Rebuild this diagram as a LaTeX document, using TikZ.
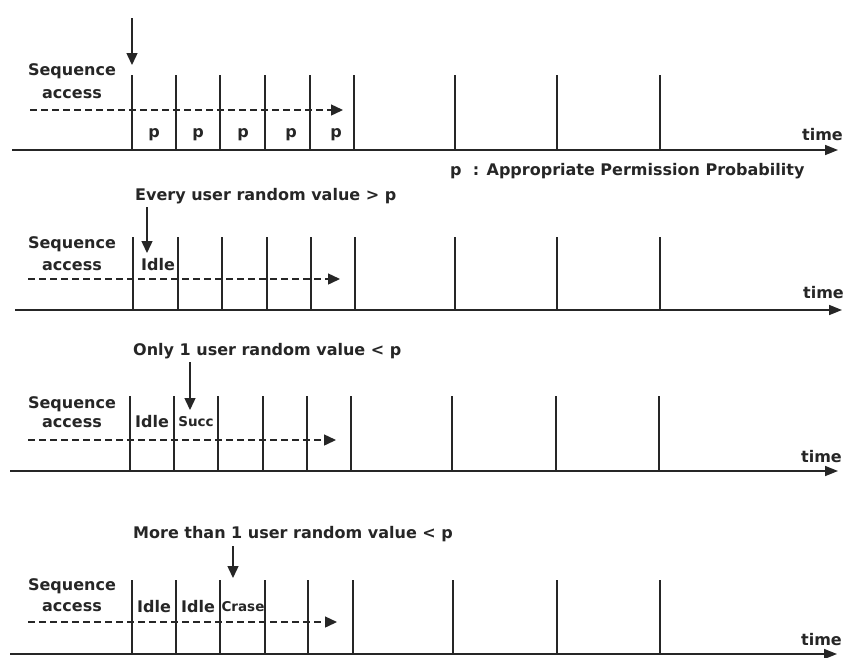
\documentclass[tikz,border=0pt]{standalone}
\usepackage{fontspec}
\setmainfont{DejaVu Sans}
\usetikzlibrary{arrows.meta}
\definecolor{ink}{HTML}{262626}
\begin{document}
\begin{tikzpicture}[x=1pt,y=-1pt,
  lbl/.style={font=\fontsize{16}{18}\selectfont\bfseries, text=ink, inner sep=0pt, anchor=base},
  lblw/.style={lbl, anchor=base west},
  lble/.style={lbl, anchor=base east},
  small/.style={font=\fontsize{13.5}{15}\selectfont\bfseries, text=ink, inner sep=0pt, anchor=base},
  tick/.style={draw=ink, line width=1.6pt},
  axis/.style={draw=ink, line width=1.6pt, -{Triangle[length=13pt,width=10pt]}},
  dasharrow/.style={draw=ink, line width=1.4pt, dash pattern=on 7pt off 4pt, -{Triangle[length=12pt,width=11pt]}},
  downarrow/.style={draw=ink, line width=1.4pt, -{Triangle[length=12pt,width=11pt]}}]
\fill[white] (0,0) rectangle (845,657);
\useasboundingbox (0,0) rectangle (845,657);

% ---------------- Panel 1 ----------------
\coordinate (a1s) at (12,150);
\coordinate (a1e) at (838,150);
\foreach \x [count=\i] in {132,176,220,265,310,354,455,557,660}{
  \coordinate (t1-\i) at (\x,75);
  \draw[tick] (t1-\i) -- (t1-\i |- a1s);
}
\draw[axis] (a1s) -- (a1e);
\coordinate (d1s) at (132,18);
\coordinate (d1e) at (132,65);
\draw[downarrow] (d1s) -- (d1e);
\node[lbl] (seq1a) at (72,75) {Sequence};
\node[lbl] (seq1b) at (72,98) {access};
\coordinate (s1) at (30,110);
\coordinate (e1) at (343,110);
\draw[dasharrow] (s1) -- (e1);
\foreach \x [count=\i] in {154,198,243,291,336}{
  \node[lbl] (p1-\i) at (\x,137) {p};
}
\node[lble] (time1) at (843,140) {time};
\node[lblw] (legend) at (450,175) {p\ \ : Appropriate Permission Probability};

% ---------------- Panel 2 ----------------
\node[lblw] (title2) at (135,200) {Every user random value > p};
\coordinate (a2s) at (15,310);
\coordinate (a2e) at (842,310);
\foreach \x [count=\i] in {133,178,222,267,311,355,455,557,660}{
  \coordinate (t2-\i) at (\x,237);
  \draw[tick] (t2-\i) -- (t2-\i |- a2s);
}
\draw[axis] (a2s) -- (a2e);
\coordinate (d2s) at (147,207);
\coordinate (d2e) at (147,253);
\draw[downarrow] (d2s) -- (d2e);
\node[lbl] (seq2a) at (72,248) {Sequence};
\node[lbl] (seq2b) at (72,270) {access};
\node[lbl] (idle2) at (158,270) {Idle};
\coordinate (s2) at (28,279);
\coordinate (e2) at (340,279);
\draw[dasharrow] (s2) -- (e2);
\node[lble] (time2) at (844,298) {time};

% ---------------- Panel 3 ----------------
\node[lblw] (title3) at (133,355) {Only 1 user random value < p};
\coordinate (a3s) at (10,471);
\coordinate (a3e) at (838,471);
\foreach \x [count=\i] in {130,174,218,263,307,351,452,556,659}{
  \coordinate (t3-\i) at (\x,396);
  \draw[tick] (t3-\i) -- (t3-\i |- a3s);
}
\draw[axis] (a3s) -- (a3e);
\coordinate (d3s) at (190,362);
\coordinate (d3e) at (190,410);
\draw[downarrow] (d3s) -- (d3e);
\node[lbl] (seq3a) at (72,408) {Sequence};
\node[lbl] (seq3b) at (72,427) {access};
\node[lbl] (idle3) at (152,427) {Idle};
\node[small] (succ3) at (196,426) {Succ};
\coordinate (s3) at (28,440);
\coordinate (e3) at (336,440);
\draw[dasharrow] (s3) -- (e3);
\node[lble] (time3) at (842,462) {time};

% ---------------- Panel 4 ----------------
\node[lblw] (title4) at (133,538) {More than 1 user random value < p};
\coordinate (a4s) at (10,654);
\coordinate (a4e) at (837,654);
\foreach \x [count=\i] in {132,176,220,265,308,353,453,557,660}{
  \coordinate (t4-\i) at (\x,580);
  \draw[tick] (t4-\i) -- (t4-\i |- a4s);
}
\draw[axis] (a4s) -- (a4e);
\coordinate (d4s) at (233,546);
\coordinate (d4e) at (233,578);
\draw[downarrow] (d4s) -- (d4e);
\node[lbl] (seq4a) at (72,590) {Sequence};
\node[lbl] (seq4b) at (72,611) {access};
\node[lbl] (idle4a) at (154,612) {Idle};
\node[lbl] (idle4b) at (198,612) {Idle};
\node[small] (crase4) at (243,611) {Crase};
\coordinate (s4) at (28,622);
\coordinate (e4) at (337,622);
\draw[dasharrow] (s4) -- (e4);
\node[lble] (time4) at (842,645) {time};
\end{tikzpicture}
\end{document}
